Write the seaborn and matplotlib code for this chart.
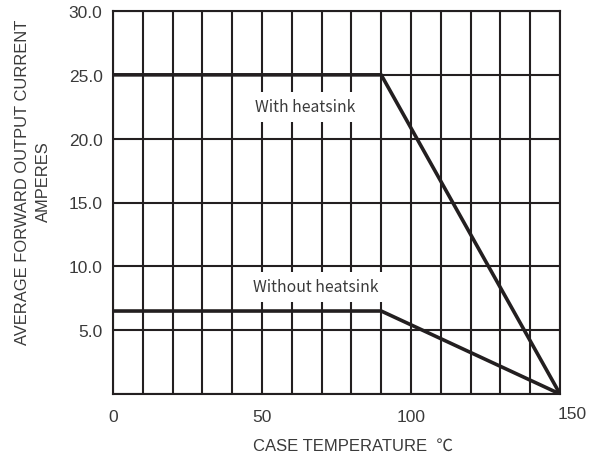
import numpy as np
import pandas as pd
import seaborn as sns
import matplotlib.pyplot as plt
import matplotlib.transforms as mtransforms

# -------------------------------
# Data
# -------------------------------
temp_with = [0, 90, 150]
amps_with = [25.0, 25.0, 0.0]
temp_without = [0, 90, 150]
amps_without = [6.5, 6.5, 0.0]
x_ticks = [0, 50, 100, 150]
y_ticks = [5.0, 10.0, 15.0, 20.0, 25.0, 30.0]

df = pd.concat([
    pd.DataFrame({"temp": temp_with, "amps": amps_with, "curve": "With heatsink"}),
    pd.DataFrame({"temp": temp_without, "amps": amps_without, "curve": "Without heatsink"}),
])

# -------------------------------
# Plot
# -------------------------------
sns.set_style("white")
plt.rcParams['font.family'] = ['Liberation Sans', 'Noto Sans CJK SC', 'DejaVu Sans']

W, H = 603, 460
fig, ax = plt.subplots(figsize=(W / 100, H / 100), dpi=100)
fig.subplots_adjust(left=113 / W, right=560 / W, top=1 - 12 / H, bottom=1 - 395 / H)

grid_col = "#231f20"
text_col = "#3a3a3a"
for gx in range(0, 151, 10):
    ax.axvline(gx, color=grid_col, lw=1.5, zorder=1)
for gy in range(0, 31, 5):
    ax.axhline(gy, color=grid_col, lw=1.5, zorder=1)

sns.lineplot(data=df, x="temp", y="amps", units="curve", estimator=None,
             color=grid_col, lw=2.6, ax=ax, zorder=3, legend=False)

cjk = ['Noto Sans CJK SC', 'DejaVu Sans']
ax.text(64.5, 22.5, "With heatsink", fontsize=11.3, color=text_col, family=cjk,
        ha="center", va="center", zorder=4,
        bbox=dict(facecolor="white", edgecolor="none", pad=4.5))
ax.text(68.2, 8.4, "Without heatsink", fontsize=11.3, color=text_col, family=cjk,
        ha="center", va="center", zorder=4,
        bbox=dict(facecolor="white", edgecolor="none", pad=4.5))

ax.set_xlim(0, 150)
ax.set_ylim(0, 30)
ax.set_xticks(x_ticks)
ax.set_xticklabels([str(t) for t in x_ticks])
ax.set_yticks(y_ticks)
ax.set_yticklabels([f"{t:.1f}" for t in y_ticks])
ax.tick_params(length=0, labelsize=12.5, colors=text_col)
ax.tick_params(axis="y", pad=7.5)
ax.tick_params(axis="x", pad=11)
ax.set_xlabel("")
ax.set_ylabel("")

# last x label sits a little right and up in the original
lbl = ax.get_xticklabels()[-1]
lbl.set_transform(lbl.get_transform() + mtransforms.ScaledTranslation(0.12, 0.03, fig.dpi_scale_trans))

for s in ax.spines.values():
    s.set_color(grid_col)
    s.set_linewidth(1.5)

fig.text(353 / W, 1 - 446 / H, "CASE TEMPERATURE  ℃", fontsize=12, color=text_col,
         ha="center", va="center")
fig.text(33 / W, 1 - 182 / H, "AVERAGE FORWARD OUTPUT CURRENT\nAMPERES", fontsize=11.9,
         color=text_col, rotation=90, ha="center", va="center", multialignment="center",
         linespacing=1.5)

plt.savefig("out.png", dpi=100)
plt.close()
